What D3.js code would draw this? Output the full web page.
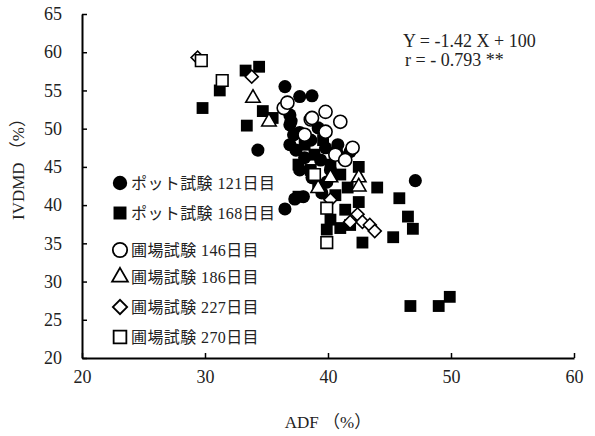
<!DOCTYPE html>
<html>
<head>
<meta charset="utf-8">
<script src="https://cdn.jsdelivr.net/npm/d3@7"></script>
<style>
    body { margin: 0; background: #fff; }
    text { font-family: 'Liberation Serif', 'Noto Sans CJK JP', serif; fill: #222; }
</style>
</head>
<body>
<div id="chart"></div>
<script>
// [ADF, IVDMD]
const pot121 = [
    [34.3, 47.2], [36.5, 55.5], [37.7, 54.2], [38.7, 54.3], [36.9, 51.8], [37.0, 51.0],
    [47.1, 43.2], [36.5, 39.5], [37.3, 40.8], [38.0, 41.1], [37.2, 49.2], [37.7, 49.5],
    [38.6, 48.5], [39.2, 50.1], [39.8, 47.5], [37.4, 47.2], [38.1, 46.2], [39.4, 45.9],
    [40.2, 44.6], [40.7, 47.0], [41.2, 46.2], [38.7, 43.6], [36.9, 47.9], [37.7, 44.6],
    [39.9, 43.0], [40.8, 47.9], [41.8, 47.0], [39.5, 41.6], [36.9, 50.5]
]
const pot168 = [
    [33.3, 57.6], [34.4, 58.1], [31.2, 55.0], [29.8, 52.7], [34.7, 52.3], [35.5, 51.4],
    [33.4, 50.4], [42.5, 45.0], [44.0, 42.3], [45.8, 40.9], [46.5, 38.5], [46.9, 36.9],
    [45.3, 35.8], [42.8, 35.1], [46.7, 26.8], [49.0, 26.8], [49.9, 28.0], [42.5, 40.4],
    [37.6, 45.3], [38.1, 47.9], [38.9, 46.6], [39.6, 48.5], [40.2, 45.3], [41.0, 44.0],
    [40.6, 41.3], [41.4, 39.4], [40.2, 38.1], [41.0, 37.0], [41.8, 37.4], [41.6, 42.3],
    [38.6, 44.6], [37.6, 41.1], [39.2, 42.6], [39.9, 36.8]
]
const field146 = [
    [36.4, 52.7], [36.7, 53.4], [38.6, 51.2], [38.7, 51.4], [39.8, 52.2], [41.0, 50.9],
    [42.0, 47.5], [39.8, 49.6], [38.1, 49.2], [40.6, 46.6], [41.4, 45.9]
]
const field186 = [
    [33.9, 54.0], [35.2, 50.9], [42.5, 43.6], [42.5, 42.4], [39.2, 42.2], [40.2, 43.6]
]
const field227 = [
    [29.4, 59.3], [33.8, 56.8], [42.4, 38.8], [42.8, 37.8], [43.4, 37.4], [43.8, 36.6],
    [41.8, 37.8], [40.2, 40.7]
]
const field270 = [
    [29.7, 58.9], [31.4, 56.3], [39.9, 35.1], [39.9, 39.6], [38.9, 44.0]
]

const seriesNames = ['ポット試験 121日目', 'ポット試験 168日目', '圃場試験 146日目',
                     '圃場試験 186日目', '圃場試験 227日目', '圃場試験 270日目']
const seriesData = [pot121, pot168, field146, field186, field227, field270]

const xTicks = [20, 30, 40, 50, 60]
const yTicks = [20, 25, 30, 35, 40, 45, 50, 55, 60, 65]
const equation = ['Y = -1.42 X + 100', 'r = - 0.793 **']

const W = 595, H = 436
const margin = { left: 82, top: 14, right: 21, bottom: 78 }
const w = W - margin.left - margin.right
const h = H - margin.top - margin.bottom

const translate = (x, y) => 'translate(' + x + ', ' + y + ')'

const svg = d3.select('#chart')
    .append('svg')
    .attr('width', W)
    .attr('height', H)

const g = svg.append('g').attr('transform', translate(margin.left, margin.top))

const x = d3.scaleLinear().domain([20, 60]).range([0, w])
const y = d3.scaleLinear().domain([20, 65]).range([h, 0])

// axes, ticks inside
const xAxis = g.append('g')
    .attr('transform', translate(0, h))
    .call(d3.axisBottom(x).tickValues(xTicks).tickSizeInner(-5).tickSizeOuter(0).tickPadding(12))
const yAxis = g.append('g')
    .call(d3.axisLeft(y).tickValues(yTicks).tickSizeInner(-5).tickSizeOuter(0).tickPadding(20))

;[xAxis, yAxis].forEach(a => {
    a.select('.domain').attr('stroke', '#000').attr('stroke-width', 2)
    a.selectAll('.tick line').attr('stroke', '#000').attr('stroke-width', 1.5)
    a.selectAll('.tick text')
        .attr('font-family', "'Liberation Serif', serif")
        .attr('font-size', 18)
        .attr('fill', '#222')
})
xAxis.selectAll('.tick text').attr('dy', '0.71em')
yAxis.selectAll('.tick text').attr('text-anchor', 'end').attr('x', -20)

// markers
const shapes = [
    { type: d3.symbolCircle, size: 135, fill: '#000', rot: 0 },
    { type: d3.symbolSquare, size: 140, fill: '#000', rot: 0 },
    { type: d3.symbolCircle, size: 135, fill: '#fff', rot: 0 },
    { type: d3.symbolTriangle, size: 90, fill: '#fff', rot: 0 },
    { type: d3.symbolSquare, size: 85, fill: '#fff', rot: 45 },
    { type: d3.symbolSquare, size: 135, fill: '#fff', rot: 0 }
]

seriesData.forEach((data, i) => {
    const s = shapes[i]
    g.append('g')
        .selectAll('path')
        .data(data)
        .join('path')
        .attr('d', d3.symbol().type(s.type).size(s.size))
        .attr('transform', d => translate(x(d[0]), y(d[1])) + ' rotate(' + s.rot + ')')
        .attr('fill', s.fill)
        .attr('stroke', '#000')
        .attr('stroke-width', s.fill === '#000' ? 0 : 1.6)
})

// legend
const legendY = [183, 213, 250, 277, 307, 337]
const legend = svg.append('g')
seriesNames.forEach((name, i) => {
    const s = shapes[i]
    legend.append('path')
        .attr('d', d3.symbol().type(s.type).size(s.size * 1.2))
        .attr('transform', translate(120, legendY[i]) + ' rotate(' + s.rot + ')')
        .attr('fill', s.fill)
        .attr('stroke', '#000')
        .attr('stroke-width', s.fill === '#000' ? 0 : 1.8)
    legend.append('text')
        .attr('x', 131)
        .attr('y', legendY[i])
        .attr('dy', '0.36em')
        .attr('font-size', 16)
        .attr('letter-spacing', 0.4)
        .text(name)
})

// regression text
svg.append('g').selectAll('text')
    .data(equation)
    .join('text')
    .attr('x', (d, i) => 403 + i * 2)
    .attr('y', (d, i) => 47 + i * 19)
    .attr('font-size', 18)
    .text(d => d)

// axis titles
svg.append('text')
    .attr('x', margin.left + w / 2)
    .attr('y', 428)
    .attr('text-anchor', 'middle')
    .attr('font-size', 17)
    .text('ADF （%）')

svg.append('text')
    .attr('transform', translate(24, 165) + ' rotate(-90)')
    .attr('text-anchor', 'middle')
    .attr('font-size', 17)
    .text('IVDMD （%）')
</script>
</body>
</html>
